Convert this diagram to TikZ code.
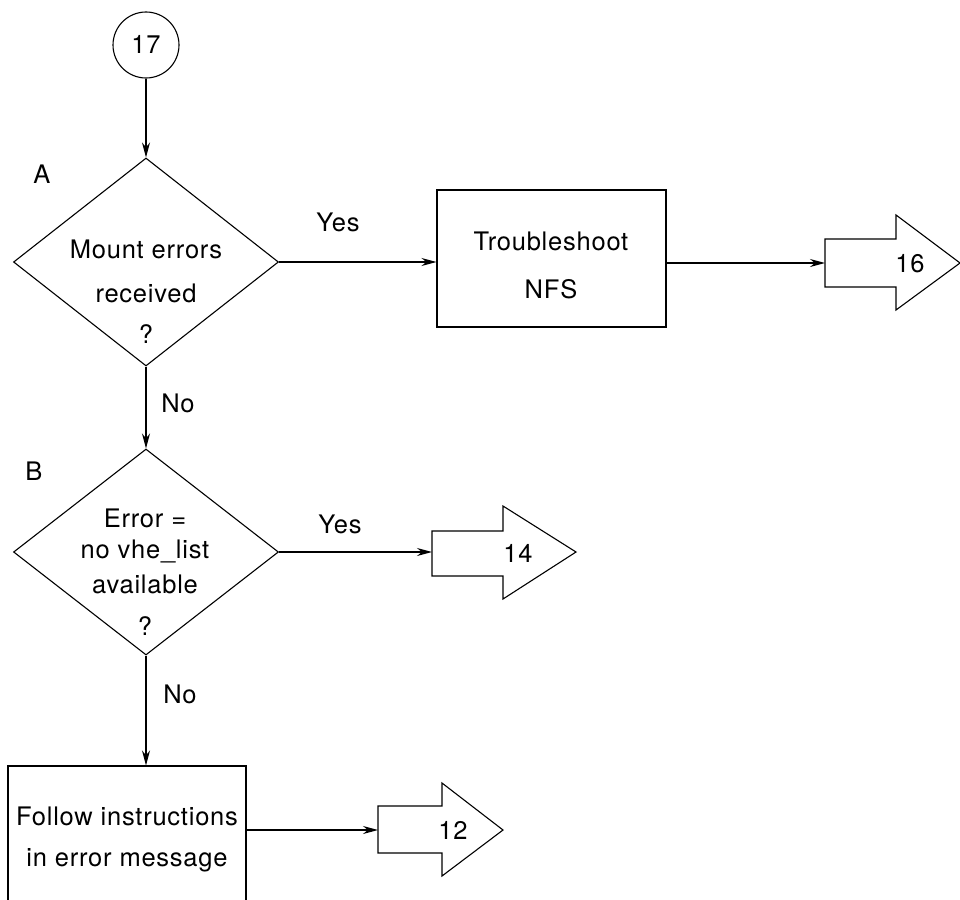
\documentclass[tikz,border=0pt]{standalone}
\usepackage{fontspec}
\setmainfont{TeX Gyre Heros}[LetterSpace=3]
\usetikzlibrary{arrows.meta,shapes.geometric}
\begin{document}
\begin{tikzpicture}[x=1pt,y=-1pt,
  line width=1.1pt,
  flow/.style={-{Stealth[length=15pt,width=8pt]}},
  txt/.style={font=\fontsize{25.5}{30}\selectfont, inner sep=0pt, anchor=base},
  decision/.style={diamond, draw, minimum width=265pt, minimum height=208pt, inner sep=0pt},
  process/.style={rectangle, draw, inner sep=0pt},
  offpage/.style={draw, line join=miter}
]
\useasboundingbox (0,0) rectangle (960,899);
\clip (0,0) rectangle (960,899);

% start connector
\node[circle, draw, minimum size=66pt, inner sep=0pt] (c17) at (146,45) {};
\node[txt] (t17) at (146,54) {17};

% decision A
\node[decision] (dA) at (146,262) {};
\node[txt] (a1) at (146,258) {Mount errors};
\node[txt] (a2) at (146,302) {received};
\node[txt] (a3) at (146,343) {?};
\node[txt] (lA) at (42,183) {A};

% troubleshoot NFS
\node[process, minimum width=229pt, minimum height=137pt] (ts) at (551.5,258.5) {};
\node[txt] (ts1) at (551,250) {Troubleshoot};
\node[txt] (ts2) at (551,298) {NFS};

% decision B
\node[decision, minimum height=206pt] (dB) at (146,552) {};
\node[txt] (b1) at (145,527) {Error =};
\node[txt] (b2) at (145,558) {no vhe\_list};
\node[txt] (b3) at (145,593) {available};
\node[txt] (b4) at (145,635) {?};
\node[txt] (lB) at (34,480) {B};

% follow instructions
\node[process, minimum width=238pt, minimum height=148pt] (fi) at (127,840) {};
\node[txt] (fi1) at (127,825) {Follow instructions};
\node[txt] (fi2) at (127,866) {in error message};

% off-page connectors
\coordinate (c16) at (825,263);
\draw[offpage] (c16) -- ++(0,-24) -- ++(71,0) -- ++(0,-24) -- (960,263)
  -- (896,310) -- ++(0,-23) -- ++(-71,0) -- cycle;
\node[txt] (t16) at (910,272) {16};

\coordinate (c14) at (432,552);
\draw[offpage] (c14) -- ++(0,-21) -- ++(71,0) -- ++(0,-25) -- (576,552)
  -- (503,599) -- ++(0,-23) -- ++(-71,0) -- cycle;
\node[txt] (t14) at (518,562) {14};

\coordinate (c12) at (378,830);
\draw[offpage] (c12) -- ++(0,-24) -- ++(64,0) -- ++(0,-23) -- (503,830)
  -- (442,876) -- ++(0,-23) -- ++(-64,0) -- cycle;
\node[txt] (t12) at (453,839) {12};

% flow lines
\draw[flow] (c17) -- (dA);
\draw[flow] (dA.east) -- (dA.east -| ts.west);
\draw[flow] (ts.east |- c16) -- (c16);
\draw[flow] (dA.south) -- (dB.north);
\draw[flow] (dB.east) -- (dB.east -| c14);
\draw[flow] (dB.south) -- (dB.south |- fi.north);
\draw[flow] (fi.east |- c12) -- (c12);

% branch labels
\node[txt] (yA) at (338,231) {Yes};
\node[txt] (nA) at (178,412) {No};
\node[txt] (yB) at (340,533) {Yes};
\node[txt] (nB) at (180,703) {No};
\end{tikzpicture}
\end{document}
